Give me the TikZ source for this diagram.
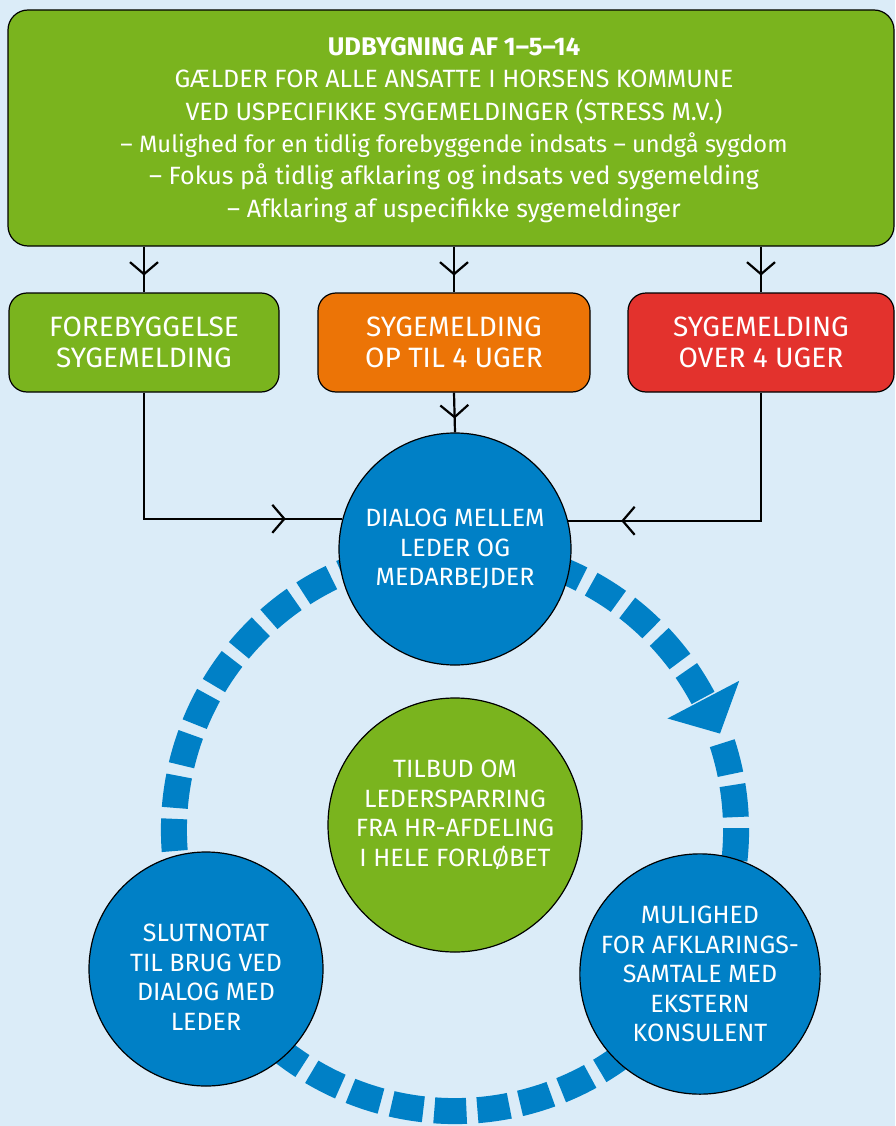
\documentclass[tikz,border=0pt]{standalone}
\usepackage{fontspec}
\setmainfont{Fira Sans}
\usetikzlibrary{arrows.meta,decorations.markings,calc}
\definecolor{bg}{RGB}{219,236,248}
\definecolor{kgreen}{RGB}{122,180,30}
\definecolor{korange}{RGB}{236,116,6}
\definecolor{kred}{RGB}{227,50,45}
\definecolor{kblue}{RGB}{0,128,198}
\tikzset{
 conn/.style={draw=black, line width=2.2pt},
 tipat/.style={postaction={decorate}, decoration={markings, mark=at position #1 with {\arrow[line width=2.2pt]{Straight Barb[length=12pt,width=28pt,line width=2.2pt]}}}},
 topbox/.style={draw=black, line width=1.2pt, rounded corners=20pt, fill=kgreen, text=white, align=center, minimum width=886pt, minimum height=236pt, inner sep=0pt, font=\fontsize{25}{32.4}\selectfont},
 midbox/.style={draw=black, line width=1.2pt, rounded corners=18pt, text=white, align=center, minimum height=99pt, inner sep=0pt, font=\fontsize{28}{31}\selectfont},
 circ/.style={circle, draw=black, line width=1.2pt, fill=kblue, text=white, align=center, inner sep=0pt, minimum size=234pt, font=\fontsize{25}{29.5}\selectfont},
 ctext/.style={text=white, align=center, inner sep=0pt, font=\fontsize{25}{29.5}\selectfont},
 ring/.style={draw=kblue, line width=26pt, dash pattern=on 32.19pt off 11pt},
}
\begin{document}
\begin{tikzpicture}[x=1pt,y=-1pt]
\fill[bg] (0,0) rectangle (895,1126);
\useasboundingbox (0,0) rectangle (895,1126);
% dashed ring with arrowhead
\coordinate (rc) at (455,830);
\draw[ring] ($(rc)+(-18:281)$) arc[start angle=-18, end angle=332, radius=281];
\fill[kblue] ($(rc)+(-27.7:321)$) -- ($(rc)+(-20:282)$) -- ($(rc)+(-27.7:240)$) -- cycle;
% boxes
\node[topbox] (top) at (451,128) {};
\node[text=white, align=center, inner sep=0pt, font=\fontsize{25}{32.4}\selectfont] (toptext) at (454,130) {{\bfseries\fontsize{25.5}{32.4}\selectfont UDBYGNING AF 1–5–14}\\GÆLDER FOR ALLE ANSATTE I HORSENS KOMMUNE\\VED USPECIFIKKE SYGEMELDINGER (STRESS M.V.)\\\fontsize{23.7}{32.4}\selectfont – Mulighed for en tidlig forebyggende indsats – undgå sygdom\\– Fokus på tidlig afklaring og indsats ved sygemelding\\– Afklaring af uspecifikke sygemeldinger};
\node[midbox, fill=kgreen, minimum width=270pt] (fore) at (144,342.5) {FOREBYGGELSE\\SYGEMELDING};
\node[midbox, fill=korange, minimum width=272pt] (opup) at (454,342.5) {SYGEMELDING\\OP TIL 4 UGER};
\node[midbox, fill=kred, minimum width=266pt] (over) at (761,342.5) {SYGEMELDING\\OVER 4 UGER};
% circles
\node[circ, minimum size=232pt] (dialog) at (455,549) {DIALOG MELLEM\\LEDER OG\\MEDARBEJDER};
\node[circ, fill=kgreen, minimum size=254pt] (tilbud) at (455,825) {};
\node[ctext] (tilbudt) at (455,815) {TILBUD OM\\LEDERSPARRING\\FRA HR-AFDELING\\I HELE FORLØBET};
\node[circ] (slut) at (206,969) {};
\node[ctext] (slutt) at (206,977) {SLUTNOTAT\\TIL BRUG VED\\DIALOG MED\\LEDER};
\node[circ] (mulig) at (700,974) {MULIGHED\\FOR AFKLARINGS-\\SAMTALE MED\\EKSTERN\\KONSULENT};
% connectors
\draw[conn, tipat=29pt] (fore.north |- top.south) -- (fore.north);
\draw[conn, tipat=29pt] (opup.north |- top.south) -- (opup.north);
\draw[conn, tipat=29pt] (over.north |- top.south) -- (over.north);
\draw[conn, tipat=26pt] (opup.south) -- (dialog.north);
\draw[conn, tipat=268pt] (fore.south) |- (dialog.165.5);
\draw[conn, tipat=268pt] (over.south) |- (dialog.14.5);
\end{tikzpicture}
\end{document}
